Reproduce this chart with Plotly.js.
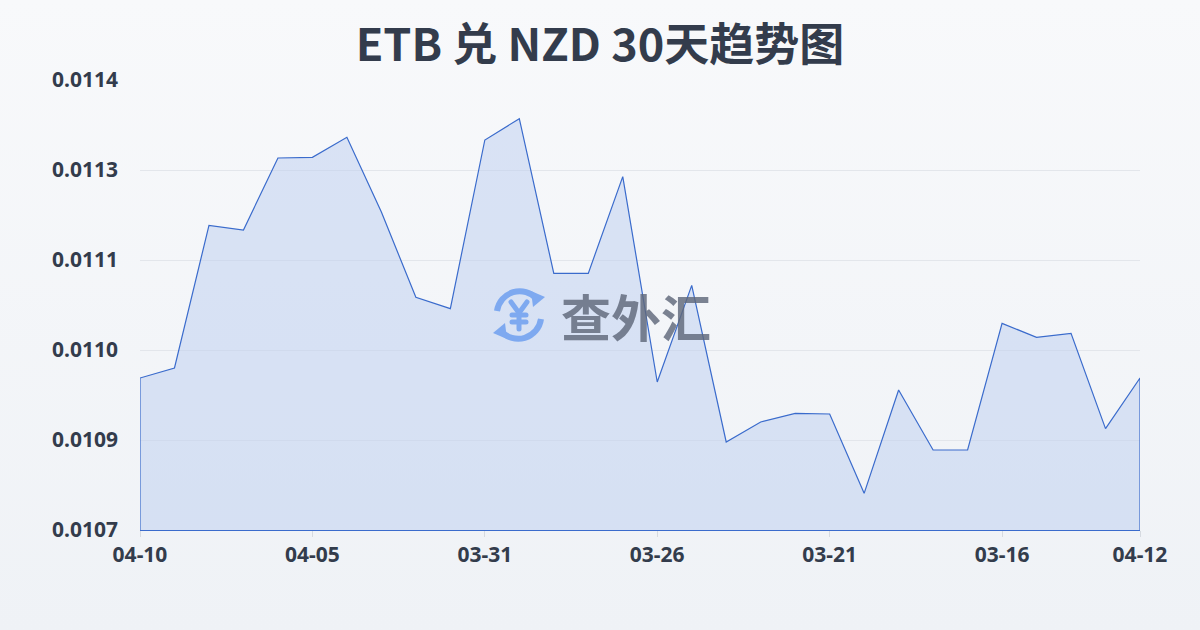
<!DOCTYPE html>
<html>
<head>
<meta charset="utf-8">
<script src="https://cdn.plot.ly/plotly-3.0.1.min.js"></script>
<style>
html,body{margin:0;padding:0;background:#f5f7fa;}
#chart{width:1200px;height:630px;}
</style>
</head>
<body>
<div id="chart"></div>
<script>
const dates = ["04-10","04-09","04-08","04-07","04-06","04-05","04-04","04-03","04-02","04-01",
  "03-31","03-30","03-29","03-28","03-27","03-26","03-25","03-24","03-23","03-22",
  "03-21","03-20","03-19","03-18","03-17","03-16","03-15","03-14","03-13","04-12"];
const rates = [0.010948,0.010963,0.011177,0.011170,0.011278,0.011279,0.011309,0.011197,0.011069,0.011052,
  0.011305,0.011337,0.011105,0.011105,0.011250,0.010942,0.011087,0.010852,0.010882,0.010895,
  0.010894,0.010775,0.010930,0.010840,0.010840,0.011030,0.011009,0.011015,0.010872,0.010948];
const tickDates = ["04-10","04-05","03-31","03-26","03-21","03-16","04-12"];
const yTickVals = [0.01072,0.010855,0.01099,0.011125,0.01126,0.011395];
const yTickText = ["0.0107","0.0109","0.0110","0.0111","0.0113","0.0114"];

const yMin = yTickVals[0], yMax = yTickVals[yTickVals.length-1];

const polyX = [dates[0]].concat(dates, [dates[dates.length-1]]);
const polyY = [yMin].concat(rates, [yMin]);

const trace = {
  x: polyX, y: polyY, type: 'scatter', mode: 'lines',
  fill: 'toself', fillcolor: 'rgba(190,208,240,0.52)',
  line: {color: '#3a6bcc', width: 1.2},
  hoverinfo: 'skip'
};

const bgSvg = "data:image/svg+xml;utf8," + encodeURIComponent(
 '<svg xmlns="http://www.w3.org/2000/svg" width="1200" height="630"><defs><linearGradient id="g" x1="0" y1="0" x2="0" y2="1"><stop offset="0" stop-color="#f8f9fb"/><stop offset="1" stop-color="#eff2f6"/></linearGradient></defs><rect width="1200" height="630" fill="url(#g)"/></svg>');

const iconSvg = "data:image/svg+xml;utf8," + encodeURIComponent(
 '<svg xmlns="http://www.w3.org/2000/svg" width="64" height="64" viewBox="0 0 64 64">' +
 '<g fill="none" stroke="#7aa7f0" stroke-width="6" stroke-linecap="butt">' +
 '<path d="M10 28 A23 23 0 0 1 50 16"/>' +
 '<path d="M54 36 A23 23 0 0 1 14 48"/>' +
 '</g>' +
 '<polygon points="44,8 58,14 46,24" fill="#7aa7f0"/>' +
 '<polygon points="20,56 6,50 18,40" fill="#7aa7f0"/>' +
 '<g stroke="#7aa7f0" stroke-width="5" fill="none" stroke-linecap="round">' +
 '<path d="M24 19 L32 30 L40 19"/><path d="M32 30 L32 46"/><path d="M25 32 L39 32"/><path d="M25 39 L39 39"/>' +
 '</g></svg>');

const layout = {
  width: 1200, height: 630,
  paper_bgcolor: '#f5f7fa', plot_bgcolor: 'rgba(0,0,0,0)',
  margin: {l: 140, r: 60, t: 80, b: 100},
  showlegend: false,
  title: {
    text: 'ETB 兑 NZD 30天趋势图',
    x: 0.5, xanchor: 'center', y: 0.9286, yanchor: 'middle',
    font: {family: '"Noto Sans CJK SC", "Noto Sans", sans-serif', size: 45, color: '#333c4c', weight: 'bold'}
  },
  xaxis: {
    type: 'category', categoryorder: 'array', categoryarray: dates,
    range: [0, dates.length-1],
    tickmode: 'array', tickvals: tickDates, ticktext: tickDates,
    showgrid: false, zeroline: false,
    showline: true, linecolor: '#3a6bcc', linewidth: 1.2,
    ticks: 'outside', ticklen: 6, tickcolor: '#d6dae0', tickwidth: 1,
    tickfont: {family: '"Noto Sans", sans-serif', size: 21, color: '#333c4c', weight: 'bold'},
    fixedrange: true
  },
  yaxis: {
    range: [yMin, yMax],
    tickmode: 'array', tickvals: yTickVals, ticktext: yTickText,
    showgrid: true, gridcolor: '#e3e6eb', gridwidth: 1,
    zeroline: false, showline: false, ticks: '', ticklen: 0,
    ticklabelstandoff: 21,
    tickfont: {family: '"Noto Sans", sans-serif', size: 21, color: '#333c4c', weight: 'bold'},
    fixedrange: true
  },
  images: [
    {source: bgSvg, xref: 'paper', yref: 'paper', x: -140/1000, y: 1 + 80/450, sizex: 1200/1000, sizey: 630/450,
     xanchor: 'left', yanchor: 'top', sizing: 'stretch', layer: 'below'},
    {source: iconSvg, xref: 'paper', yref: 'paper', x: (519-140)/1000, y: (530-315)/450, sizex: 64/1000, sizey: 64/450,
     xanchor: 'center', yanchor: 'middle', sizing: 'contain', layer: 'above', opacity: 0.95}
  ],
  annotations: [
    {text: '查外汇', xref: 'paper', yref: 'paper', x: (636-140)/1000, y: (530-315)/450,
     xanchor: 'center', yanchor: 'middle', showarrow: false,
     font: {family: '"Noto Sans CJK SC", sans-serif', size: 50, color: 'rgba(95,104,122,0.82)', weight: 'bold'}}
  ]
};

Plotly.newPlot('chart', [trace], layout, {staticPlot: true, displayModeBar: false});
</script>
</body>
</html>
